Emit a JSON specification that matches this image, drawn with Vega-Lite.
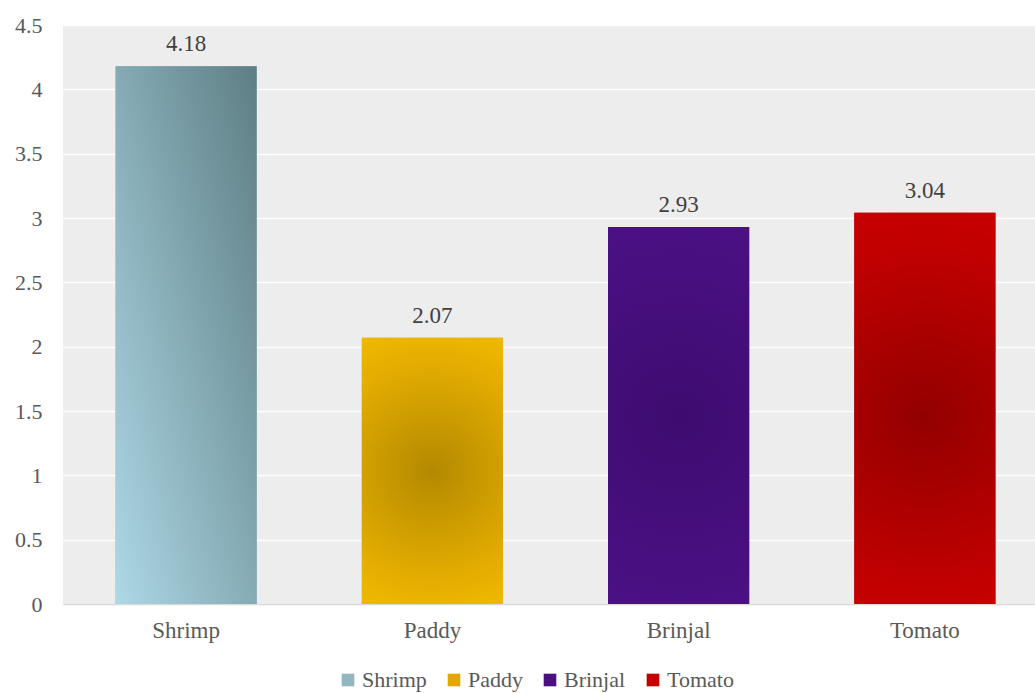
{
  "$schema": "https://vega.github.io/schema/vega-lite/v6.json",
  "autosize": "none",
  "width": 972,
  "height": 579,
  "padding": {"left": 63, "top": 25, "right": 0, "bottom": 89},
  "background": "white",
  "config": {
    "font": "Liberation Serif",
    "view": {"stroke": null, "fill": "#ededed"}
  },
  "data": {"values": [
    {"crop": "Shrimp", "value": 4.18},
    {"crop": "Paddy", "value": 2.07},
    {"crop": "Brinjal", "value": 2.93},
    {"crop": "Tomato", "value": 3.04}
  ]},
  "encoding": {
    "x": {"field": "crop", "type": "nominal", "sort": ["Shrimp", "Paddy", "Brinjal", "Tomato"],
      "scale": {"paddingInner": 0, "paddingOuter": 0, "range": [0, 985]},
      "axis": {"title": null, "labelAngle": 0, "labelFont": "Liberation Serif", "labelFontSize": 23, "labelColor": "#595959",
        "labelPadding": 15, "ticks": false, "domainColor": "#d9d9d9", "domainWidth": 1.5}},
    "y": {"field": "value", "type": "quantitative",
      "scale": {"domain": [0, 4.5], "nice": false},
      "axis": {"title": null, "values": [0, 0.5, 1, 1.5, 2, 2.5, 3, 3.5, 4, 4.5], "labelFont": "Liberation Serif", "labelFontSize": 22,
        "labelColor": "#595959", "labelPadding": 21, "ticks": false, "domain": false, "gridColor": "#ffffff", "gridWidth": 1.5, "gridOpacity": 1,
        "labelExpr": "datum.value"}}
  },
  "layer": [
    {
      "mark": {"type": "bar", "width": {"band": 0.573}},
      "encoding": {
        "color": {"field": "crop", "type": "nominal",
          "scale": {"domain": ["Shrimp", "Paddy", "Brinjal", "Tomato"], "range": ["#93b7c0", "#e2a800", "#4a1180", "#c40000"]},
          "legend": {"title": null, "orient": "none", "direction": "horizontal", "legendX": 274, "legendY": 644,
            "symbolType": "square", "symbolSize": 160, "symbolStrokeWidth": 0, "symbolOpacity": 1,
            "labelFont": "Liberation Serif", "labelFontSize": 22, "labelColor": "#595959", "columnPadding": 16, "labelOffset": 3}}
      }
    },
    {
      "transform": [{"filter": "datum.crop === 'Shrimp'"}],
      "mark": {"type": "bar", "width": {"band": 0.573},
        "color": {"gradient": "linear", "x1": 0, "y1": 1, "x2": 1, "y2": 0,
          "stops": [{"offset": 0, "color": "#add8e6"}, {"offset": 1, "color": "#5e7e84"}]}}
    },
    {
      "transform": [{"filter": "datum.crop === 'Paddy'"}],
      "mark": {"type": "bar", "width": {"band": 0.573},
        "color": {"gradient": "radial", "x1": 0.5, "y1": 0.5, "r1": 0, "x2": 0.5, "y2": 0.5, "r2": 0.75,
          "stops": [{"offset": 0, "color": "#b38900"}, {"offset": 0.55, "color": "#e4ad00"}, {"offset": 1, "color": "#fcc800"}]}}
    },
    {
      "transform": [{"filter": "datum.crop === 'Brinjal'"}],
      "mark": {"type": "bar", "width": {"band": 0.573},
        "color": {"gradient": "radial", "x1": 0.5, "y1": 0.5, "r1": 0, "x2": 0.5, "y2": 0.5, "r2": 0.75,
          "stops": [{"offset": 0, "color": "#3e0c70"}, {"offset": 1, "color": "#50128e"}]}}
    },
    {
      "transform": [{"filter": "datum.crop === 'Tomato'"}],
      "mark": {"type": "bar", "width": {"band": 0.573},
        "color": {"gradient": "radial", "x1": 0.5, "y1": 0.52, "r1": 0, "x2": 0.5, "y2": 0.52, "r2": 0.7,
          "stops": [{"offset": 0, "color": "#930000"}, {"offset": 0.6, "color": "#c00000"}, {"offset": 1, "color": "#cf0000"}]}}
    },
    {
      "mark": {"type": "text", "baseline": "bottom", "dy": -10, "font": "Liberation Serif", "fontSize": 23, "color": "#404040"},
      "encoding": {"text": {"field": "value", "type": "quantitative", "format": ".2f"}}
    }
  ]
}
